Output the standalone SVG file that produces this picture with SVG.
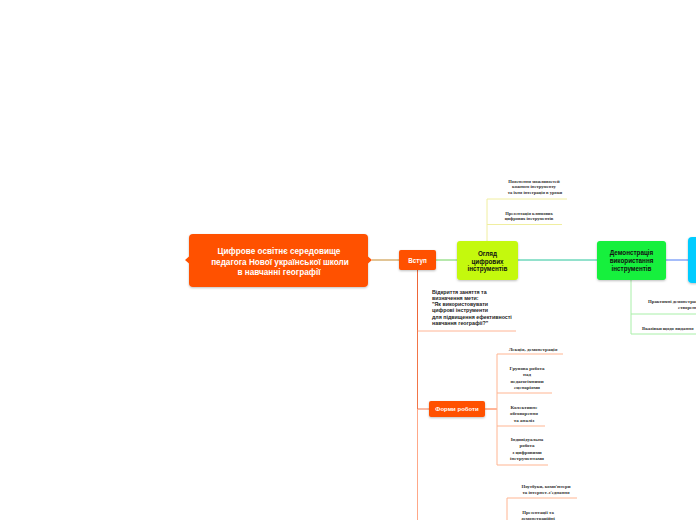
<svg xmlns="http://www.w3.org/2000/svg" width="696" height="520" viewBox="0 0 696 520">
<style>
.nt{font-family:"Liberation Sans","DejaVu Sans",sans-serif;font-weight:bold;text-anchor:middle}
.w{fill:#ffffff}
.b{fill:#111111}
.st{font-family:"Liberation Serif","DejaVu Serif",serif;font-weight:bold;fill:#333333;text-anchor:middle}
.bl{font-family:"Liberation Sans","DejaVu Sans",sans-serif;font-weight:bold;fill:#222222;font-size:5.3px}
.c{fill:none;stroke-width:1}
</style>
<defs>
<filter id="sh" x="-20%" y="-20%" width="140%" height="150%">
<feDropShadow dx="0" dy="1" stdDeviation="1.2" flood-color="#000000" flood-opacity="0.25"/>
</filter>
</defs>
<rect width="696" height="520" fill="#ffffff"/>
<g id="connectors">
<path class="c" d="M372 260H399" stroke="#C48A2C"/>
<path class="c" d="M436 260H457" stroke="#6FD25A"/>
<path class="c" d="M518 260H597" stroke="#27C49A"/>
<path class="c" d="M666 260H688" stroke="#4B7BF5"/>
<path class="c" d="M487 241V199H567" stroke="#F0EEA0"/>
<path class="c" d="M487 224.5H562" stroke="#F0EEA0"/>
<path class="c" d="M631 280V334H696" stroke="#A8EFA8"/>
<path class="c" d="M631 314H696" stroke="#A8EFA8"/>
<path class="c" d="M417.5 270V331" stroke="#EE6638"/>
<path class="c" d="M417.5 331H516" stroke="#FFB494"/>
<path class="c" d="M417.5 331V409H429" stroke="#F27548"/>
<path class="c" d="M417.5 409V520" stroke="#FFA888"/>
<path class="c" d="M485 409H497" stroke="#FF6A30"/>
<path class="c" d="M497 354V465" stroke="#FFB592"/>
<path class="c" d="M497 354H563M497 393H552M497 426H545M497 465H548" stroke="#FFB592"/>
<path class="c" d="M507 520V498H577" stroke="#FFB592"/>
</g>
<g id="main">
<rect x="189" y="234" width="179" height="53" rx="4" fill="#FF5100" filter="url(#sh)"/>
<path d="M189 256.5L185 260L189 263.5Z M368 256.5L372 260L368 263.5Z" fill="#FF5100"/>
<text class="nt w" font-size="8.2" x="279" y="254">Цифрове освітнє середовище</text>
<text class="nt w" font-size="8.2" x="280" y="264.5">педагога Нової української школи</text>
<text class="nt w" font-size="8.2" x="279" y="275">в навчанні географії</text>
</g>
<g id="vstup">
<rect x="399" y="250" width="37" height="20" rx="2" fill="#FF5100" filter="url(#sh)"/>
<text class="nt w" font-size="6.3" x="417.5" y="262.5">Вступ</text>
</g>
<g id="ohliad">
<rect x="457" y="241" width="61" height="39" rx="3" fill="#C4F90C" filter="url(#sh)"/>
<text class="nt b" font-size="6.3" x="487.5" y="256">Огляд</text>
<text class="nt b" font-size="6.3" x="487.5" y="263.5">цифрових</text>
<text class="nt b" font-size="6.3" x="487.5" y="271">інструментів</text>
</g>
<g id="ohliad-1">
<text class="st" font-size="4.6" x="534" y="182.5">Пояснення можливостей</text>
<text class="st" font-size="4.6" x="534" y="188">кожного інструменту</text>
<text class="st" font-size="4.6" x="535" y="193.5">та їхня інтеграція в уроки</text>
</g>
<g id="ohliad-2">
<text class="st" font-size="4.6" x="529" y="215">Презентація ключових</text>
<text class="st" font-size="4.6" x="529" y="220">цифрових інструментів</text>
</g>
<g id="demo">
<rect x="597" y="241" width="69" height="39" rx="3" fill="#12F03C" filter="url(#sh)"/>
<text class="nt b" font-size="6.3" x="631.5" y="255">Демонстрація</text>
<text class="nt b" font-size="6.3" x="631.5" y="262.5">використання</text>
<text class="nt b" font-size="6.3" x="631.5" y="270.5">інструментів</text>
</g>
<g id="demo-1">
<text class="st" font-size="4.8" x="648" y="302.5" text-anchor="start" style="text-anchor:start">Практичні демонстрації</text>
<text class="st" font-size="4.8" x="678" y="308.5" style="text-anchor:start">створення</text>
</g>
<g id="demo-2">
<text class="st" font-size="4.8" x="642" y="329.5" style="text-anchor:start">Вказівки щодо видання</text>
</g>
<g id="blue">
<rect x="688" y="237" width="20" height="46" rx="4" fill="#00CCFF" filter="url(#sh)"/>
</g>
<g id="vstup-text">
<text class="bl" x="432" y="294">Відкриття заняття та</text>
<text class="bl" x="432" y="300">визначення мети:</text>
<text class="bl" x="432" y="306">"Як використовувати</text>
<text class="bl" x="432" y="312">цифрові інструменти</text>
<text class="bl" x="432" y="318.5">для підвищення ефективності</text>
<text class="bl" x="432" y="324.5">навчання географії?"</text>
</g>
<g id="formy">
<rect x="429" y="401" width="56" height="16" rx="2" fill="#FF5100" filter="url(#sh)"/>
<text class="nt w" font-size="6" x="457" y="411.2">Форми роботи</text>
</g>
<g id="formy-1">
<text class="st" font-size="5" x="533" y="350.5">Лекція, демонстрація</text>
</g>
<g id="formy-2">
<text class="st" font-size="5" x="527" y="370">Групова робота</text>
<text class="st" font-size="5" x="527" y="376.3">над</text>
<text class="st" font-size="5" x="527" y="382.6">педагогічними</text>
<text class="st" font-size="5" x="527" y="389">сценаріями</text>
</g>
<g id="formy-3">
<text class="st" font-size="5" x="524" y="409">Колективне</text>
<text class="st" font-size="5" x="524" y="415.3">обговорення</text>
<text class="st" font-size="5" x="524" y="421.6">та аналіз</text>
</g>
<g id="formy-4">
<text class="st" font-size="5" x="527" y="441">Індивідуальна</text>
<text class="st" font-size="5" x="527" y="447.3">робота</text>
<text class="st" font-size="5" x="527" y="453.6">з цифровими</text>
<text class="st" font-size="5" x="527" y="460">інструментами</text>
</g>
<g id="res-1">
<text class="st" font-size="4.8" x="546" y="487.5">Ноутбуки, комп'ютери</text>
<text class="st" font-size="4.8" x="546" y="494">та інтернет-з'єднання</text>
</g>
<g id="res-2">
<text class="st" font-size="4.8" x="538" y="514">Презентації та</text>
<text class="st" font-size="4.8" x="538" y="520">демонстраційні</text>
</g>
</svg>
